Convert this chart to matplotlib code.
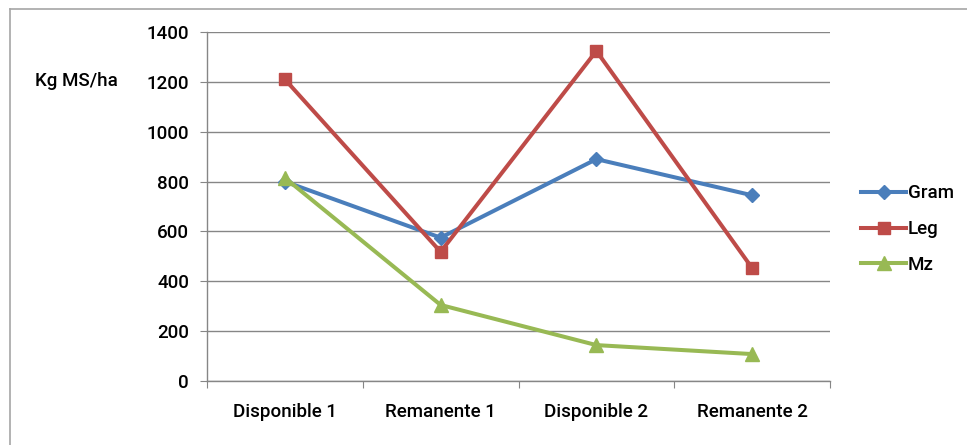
import matplotlib.pyplot as plt
from matplotlib.lines import Line2D

plt.rcParams['font.family'] = ['Roboto', 'Liberation Sans', 'DejaVu Sans']
plt.rcParams['font.weight'] = 'medium'

categorias = ["Disponible 1", "Remanente 1", "Disponible 2", "Remanente 2"]
gram = [800, 575, 890, 745]
leg = [1210, 518, 1324, 453]
mz = [815, 305, 144, 108]

fig = plt.figure(figsize=(9.67, 4.45), dpi=100)

# chart frame, only top and left edges fall inside the figure
fig.add_artist(Line2D([10 / 967, 1.0], [1 - 9 / 445, 1 - 9 / 445], color="#a6a6a6", lw=1.2))
fig.add_artist(Line2D([10 / 967, 10 / 967], [0, 1 - 9 / 445], color="#a6a6a6", lw=1.2))

ax = fig.add_axes([207 / 967, 1 - 381 / 445, 623 / 967, 349 / 445])

x = [i + 0.5 for i in range(len(categorias))]
ax.plot(x, gram, color="#4a7ebb", lw=2.9, marker="D", ms=7, label="Gram", zorder=3)
ax.plot(x, leg, color="#be4b48", lw=2.9, marker="s", ms=9, label="Leg", zorder=3)
ax.plot(x, mz, color="#98b954", lw=2.9, marker="^", ms=10, label="Mz", zorder=3)

ax.set_xlim(0, 4)
ax.set_ylim(0, 1400)
ax.set_yticks(range(0, 1401, 200))
ax.yaxis.grid(True, color="#868686", lw=1)
ax.set_axisbelow(True)

ax.set_xticks(range(5))
ax.set_xticklabels([])
ax.set_xticks(x, minor=True)
ax.set_xticklabels(categorias, minor=True)
ax.tick_params(axis="x", which="major", length=5, color="#868686", direction="out")
ax.tick_params(axis="x", which="minor", length=0, pad=16, labelsize=13.5)
ax.tick_params(axis="y", length=5, color="#868686", pad=8, labelsize=13.5)

for s in ["top", "right"]:
    ax.spines[s].set_visible(False)
for s in ["left", "bottom"]:
    ax.spines[s].set_color("#868686")
    ax.spines[s].set_linewidth(1)

fig.text(35 / 967, 1 - 81 / 445, "Kg MS/ha", fontsize=13.5, va="center", ha="left")

ax.legend(loc="center left", bbox_to_anchor=(1.035, 0.435), frameon=False, fontsize=13.5,
          handlelength=2.4, labelspacing=0.95, handletextpad=0.1, borderpad=0)

fig.savefig("out.png", dpi=100)
